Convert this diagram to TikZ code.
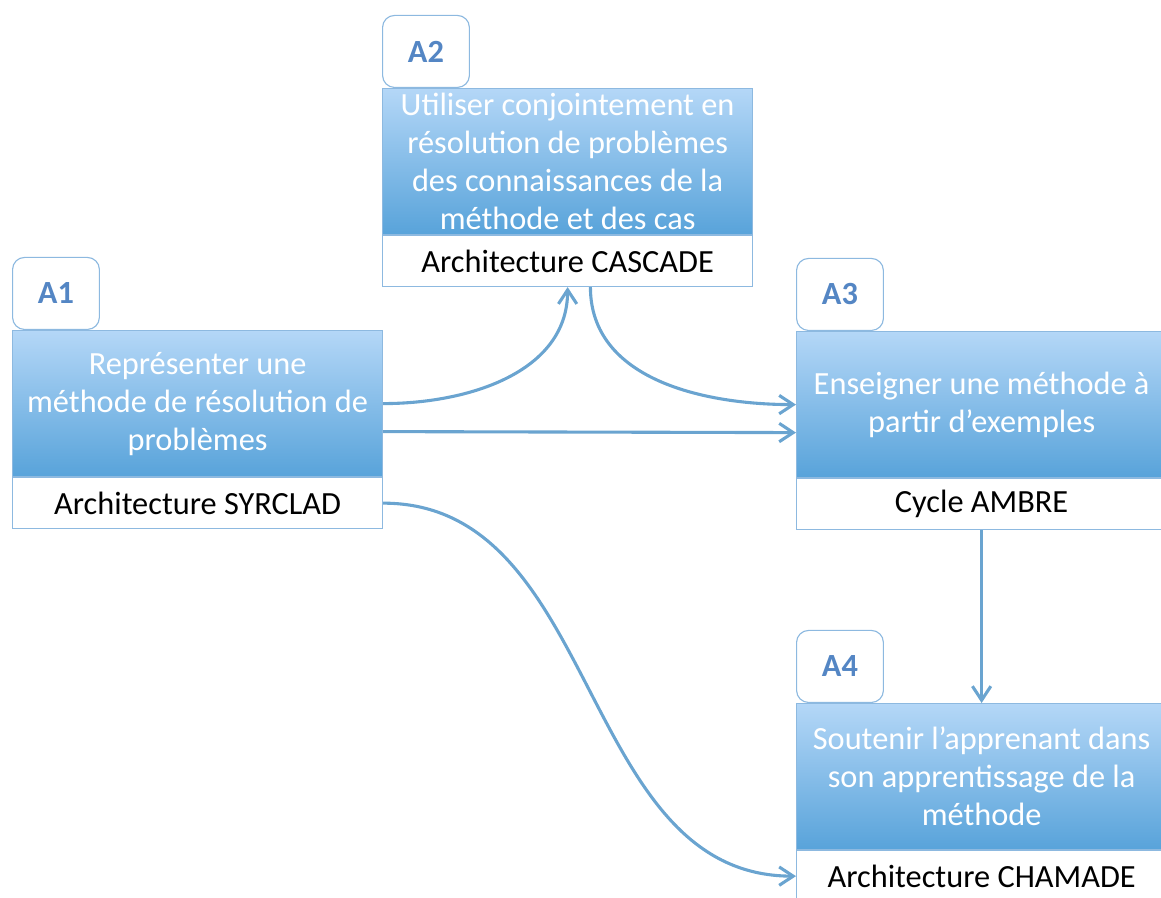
\documentclass[tikz,border=0pt]{standalone}
\usepackage{fontspec}
\setmainfont{Carlito}
\usepackage{tikz}
\usetikzlibrary{arrows.meta}
\usetikzlibrary{positioning}

\definecolor{bleuhaut}{HTML}{B4D7F7}
\definecolor{bleubas}{HTML}{58A3DA}
\definecolor{bord}{HTML}{8DB9E0}
\definecolor{fleche}{HTML}{6AA4D0}
\definecolor{titre}{HTML}{5486C4}

\tikzset{
  tache/.style={draw=bord, line width=0.8pt, top color=bleuhaut, bottom color=bleubas,
    text=white, minimum width=9.25cm, minimum height=3.65cm, inner sep=0pt,
    align=center, font=\fontsize{23}{27}\selectfont},
  etiquette/.style={draw=bord, line width=0.8pt, fill=white, minimum width=9.25cm,
    minimum height=1.27cm, inner sep=0pt, font=\fontsize{23}{27}\selectfont},
  onglet/.style={draw=bord, line width=0.8pt, fill=white, rounded corners=0.3cm,
    minimum width=2.17cm, minimum height=1.8cm, inner sep=0pt, text=titre,
    font=\fontsize{23}{27}\selectfont\bfseries},
  lien/.style={draw=fleche, line width=2.2pt, ->},
  >={Straight Barb[length=3.5mm,width=4.6mm]}
}

\begin{document}
\begin{tikzpicture}[x=0.025cm, y=-0.025cm]
\path[use as bounding box, clip] (0,0) rectangle (1161,897);

% A1
\node[tache, anchor=north west] (a1) at (12,330)
{Représenter une\\méthode de résolution de\\problèmes};
\node[etiquette, below=0pt of a1] (a1lab) {Architecture SYRCLAD};
\node[onglet, above right=0pt and 0pt of a1.north west] (a1tab) {A1};

% A2
\node[tache, anchor=north west] (a2) at (382,88)
{Utiliser conjointement en\\résolution de problèmes\\des connaissances de la\\méthode et des cas};
\node[etiquette, below=0pt of a2] (a2lab) {Architecture CASCADE};
\node[onglet, above right=0pt and 0pt of a2.north west] (a2tab) {A2};

% A3
\node[tache, anchor=north west] (a3) at (796,331)
{Enseigner une méthode à\\partir d’exemples};
\node[etiquette, below=0pt of a3] (a3lab) {Cycle AMBRE};
\node[onglet, above right=0pt and 0pt of a3.north west] (a3tab) {A3};

% A4
\node[tache, anchor=north west] (a4) at (796,703)
{Soutenir l’apprenant dans\\son apprentissage de la\\méthode};
\node[etiquette, below=0pt of a4] (a4lab) {Architecture CHAMADE};
\node[onglet, above right=0pt and 0pt of a4.north west] (a4tab) {A4};

% liens
\draw[lien] (a1.east) to[out=0, in=-90] (a2lab.south);
\draw[lien] ([xshift=0.57cm]a2lab.south) to[out=-90, in=180] (a3.west);
\draw[lien] ([yshift=-0.7cm]a1.east) -- ([yshift=-0.7cm]a3.west);
\draw[lien] (a3lab.south) -- (a4.north);
\draw[lien] (a1lab.east) to[out=0, in=180] (a4lab.west);

\end{tikzpicture}
\end{document}
